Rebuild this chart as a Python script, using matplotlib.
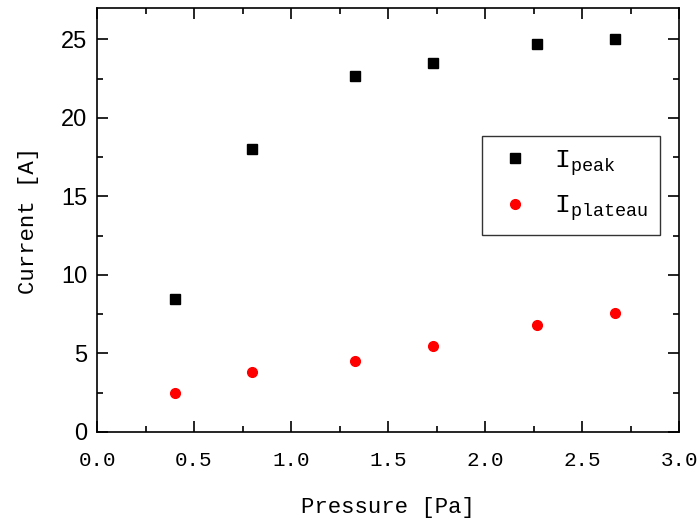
import matplotlib
matplotlib.use("Agg")
import matplotlib.pyplot as plt
from matplotlib.ticker import MultipleLocator

pressure = [0.4, 0.8, 1.33, 1.73, 2.27, 2.67]
i_peak = [8.5, 18.0, 22.7, 23.5, 24.7, 25.0]
i_plateau = [2.5, 3.85, 4.5, 5.5, 6.8, 7.6]

MONO = "Liberation Mono"
plt.rcParams["mathtext.fontset"] = "custom"
plt.rcParams["mathtext.rm"] = MONO
plt.rcParams["mathtext.it"] = MONO

fig = plt.figure(figsize=(6.99, 5.2), dpi=100)
ax = fig.add_axes([97 / 699, 88 / 520, 582 / 699, 424 / 520])

ax.plot(pressure, i_peak, "s", color="black", markersize=6.5, label=r"I$_{\mathrm{peak}}$")
ax.plot(pressure, i_plateau, "o", color="red", markersize=7, label=r"I$_{\mathrm{plateau}}$")

ax.set_xlim(0, 3.0)
ax.set_ylim(0, 27)
ax.xaxis.set_major_locator(MultipleLocator(0.5))
ax.xaxis.set_minor_locator(MultipleLocator(0.25))
ax.yaxis.set_major_locator(MultipleLocator(5))
ax.yaxis.set_minor_locator(MultipleLocator(2.5))
ax.tick_params(which="both", direction="in", top=True, right=True, width=1.2)
ax.tick_params(which="major", length=8)
ax.tick_params(which="minor", length=4)
ax.tick_params(axis="x", pad=14)
ax.tick_params(axis="y", pad=7)

for lab in ax.get_xticklabels():
    lab.set_fontfamily(MONO)
    lab.set_fontsize(15)
for lab in ax.get_yticklabels():
    lab.set_fontfamily("Liberation Sans")
    lab.set_fontsize(17)

for s in ax.spines.values():
    s.set_linewidth(1.2)

ax.set_xlabel("Pressure [Pa]", fontfamily=MONO, fontsize=16, labelpad=19)
ax.set_ylabel("Current [A]", fontfamily=MONO, fontsize=16, labelpad=16)

leg = ax.legend(loc="upper left", bbox_to_anchor=(0.661, 0.698), frameon=True,
                fancybox=False, prop={"family": MONO, "size": 19},
                borderpad=0.45, labelspacing=0.6, handletextpad=0.7, handlelength=1.6,
                borderaxespad=0)
leg.get_frame().set_edgecolor("black")
leg.get_frame().set_linewidth(1.0)

fig.savefig("out.png", dpi=100)
